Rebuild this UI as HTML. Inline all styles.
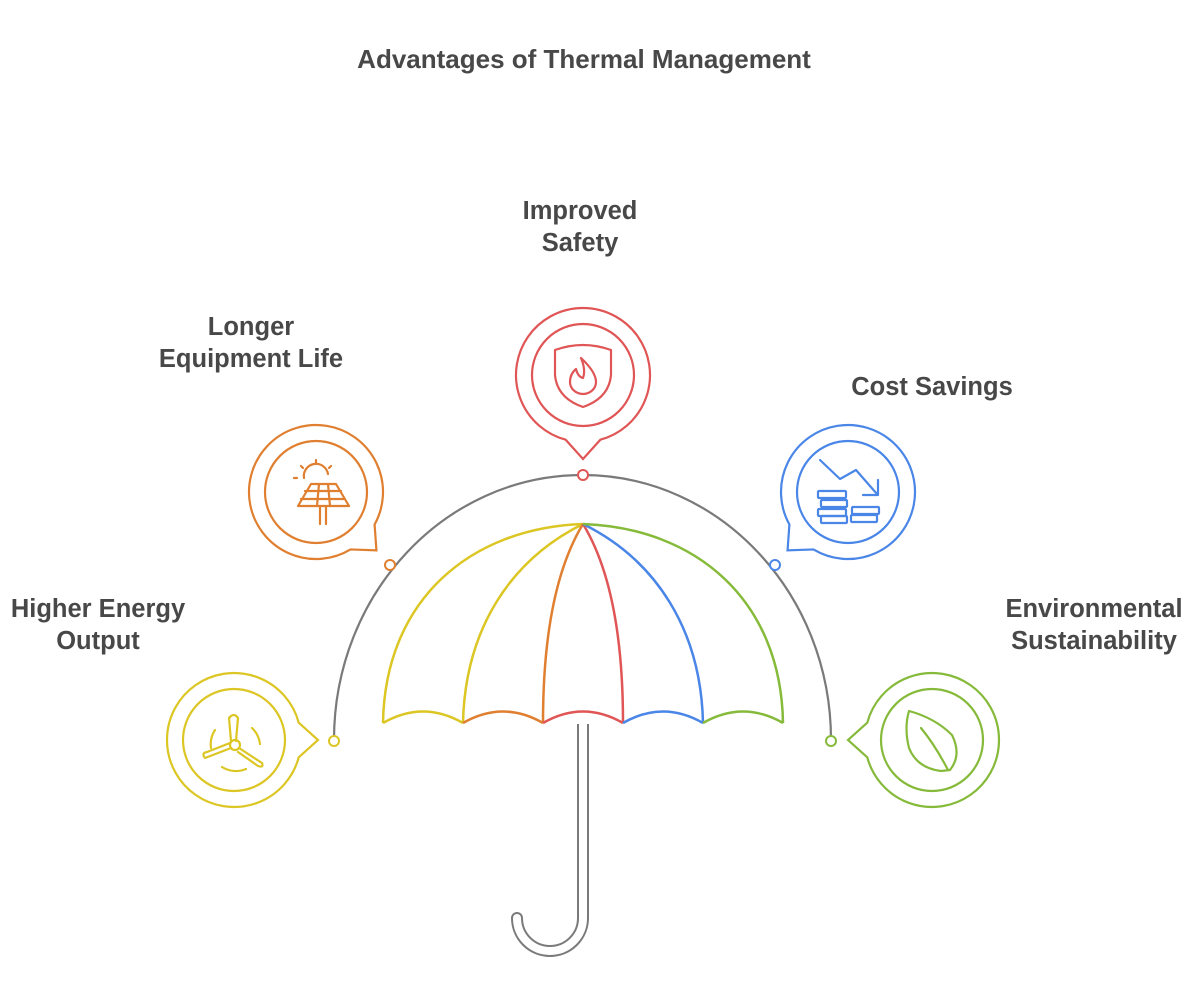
<!DOCTYPE html>
<html><head><meta charset="utf-8"><style>
html,body{margin:0;padding:0;background:#fff;}
svg{display:block}
text{font-family:"Liberation Sans",sans-serif;font-weight:bold;fill:#484848;}
</style></head><body>
<svg id="s" width="1200" height="1000" viewBox="0 0 1200 1000" xmlns="http://www.w3.org/2000/svg">
<text x="584" y="68" font-size="26" text-anchor="middle">Advantages of Thermal Management</text>
<text x="580" y="219" font-size="25.5" text-anchor="middle">Improved</text>
<text x="580" y="251" font-size="25.5" text-anchor="middle">Safety</text>
<text x="251" y="335" font-size="25.5" text-anchor="middle">Longer</text>
<text x="251" y="367" font-size="25.5" text-anchor="middle">Equipment Life</text>
<text x="932" y="395" font-size="25.5" text-anchor="middle">Cost Savings</text>
<text x="98" y="617" font-size="25.5" text-anchor="middle">Higher Energy</text>
<text x="98" y="649" font-size="25.5" text-anchor="middle">Output</text>
<text x="1094" y="617" font-size="25.5" text-anchor="middle">Environmental</text>
<text x="1094" y="649" font-size="25.5" text-anchor="middle">Sustainability</text>

<!-- outer arc -->
<path d="M334,740 C334,593.6 445.2,475 582.5,475 C719.8,475 831,593.6 831,740" fill="none" stroke="#7a7a7a" stroke-width="2.2"/>

<!-- handle -->
<path d="M583,722 L583,918 A33,33 0 0 1 517,918" fill="none" stroke="#7a7a7a" stroke-width="12" stroke-linecap="round"/>
<path d="M583,722 L583,918 A33,33 0 0 1 517,918" fill="none" stroke="#fff" stroke-width="8" stroke-linecap="round"/>
<rect x="576" y="712" width="14" height="12" fill="#fff"/>

<!-- canopy -->
<g fill="none" stroke-width="2.5" stroke-linejoin="round">
<path d="M583,524 C470,528 385,600 383,723" stroke="#dcc624"/>
<path d="M583,524 C510,560 465,630 463,723" stroke="#dcc624"/>
<path d="M583,524 C555,570 543,640 543,723" stroke="#e07f30"/>
<path d="M583,524 C611,570 623,640 623,723" stroke="#e05555"/>
<path d="M583,524 C656,560 701,630 703,723" stroke="#4a86e8"/>
<path d="M583,524 C696,528 781,600 783,723" stroke="#86ba3a"/>
<path d="M383,723 Q423,700 463,723" stroke="#dcc624"/>
<path d="M463,723 Q503,700 543,723" stroke="#e07f30"/>
<path d="M543,723 Q583,700 623,723" stroke="#e05555"/>
<path d="M623,723 Q663,700 703,723" stroke="#4a86e8"/>
<path d="M703,723 Q743,700 783,723" stroke="#86ba3a"/>
</g>

<!-- dots -->
<g fill="#fff" stroke-width="2">
<circle cx="583" cy="475" r="5" stroke="#e05555"/>
<circle cx="390" cy="565" r="5" stroke="#e07f30"/>
<circle cx="775" cy="565" r="5" stroke="#4a86e8"/>
<circle cx="334" cy="741" r="5" stroke="#dcc624"/>
<circle cx="831" cy="741" r="5" stroke="#86ba3a"/>
</g>
<g id="bubbles" fill="none" stroke-width="2.2"></g>

<!-- icons -->
<g fill="none" stroke-width="2.2" stroke-linecap="round" stroke-linejoin="round">
<g stroke="#e05555">
<path d="M555,350 Q583,340 611,350 L611,375 Q609,398 583,407 Q557,398 555,375 Z"/>
<path d="M581,358 Q596,372 596,382 A13,12 0 0 1 570,382 Q570,374 576,369 Q578,377 583,378 Q586,370 581,358 Z"/>
</g>
<g stroke="#e07f30">
<path d="M298,506 L311,484 L336,484 L349,506 Z M301,499 L345,499 M305,491 L341,491 M319,484 L317,506 M328,484 L330,506 M320,506 L320,524 M326,506 L326,524"/>
<path d="M304,478 A12,12 0 0 1 328,474"/>
<path d="M316,460 L316,463 M301,466 L303,468 M331,466 L329,468 M294,478 L297,478"/>
</g>
<g stroke="#dcc624">
<circle cx="235" cy="745" r="5"/>
<path d="M231,741 L229,718 Q234,712 238,718 L236,741"/>
<path d="M239,748 L262,763 Q264,768 258,766 L238,752"/>
<path d="M231,748 L205,758 Q201,753 207,752 L230,743"/>
<path d="M215,730 A26,26 0 0 0 211,748 M252,728 A26,26 0 0 1 260,744 M222,767 A26,26 0 0 0 246,769"/>
</g>
<g stroke="#4a86e8">
<path d="M820,460 L840,479 L856,470 L877,494 M863,495 L878,495 L878,480"/>
<rect x="818" y="491" width="28" height="7" rx="1"/>
<rect x="821" y="500" width="26" height="7" rx="1"/>
<rect x="818" y="509" width="28" height="7" rx="1"/>
<rect x="821" y="516" width="26" height="7" rx="1"/>
<rect x="852" y="507" width="27" height="7" rx="1"/>
<rect x="851" y="515" width="26" height="7" rx="1"/>
</g>
<g stroke="#86ba3a">
<path d="M909,711 Q935,718 952,735 Q962,755 950,770 L941,771 Q917,768 909,748 Q904,728 909,711 Z"/>
<path d="M921,728 Q935,745 948,770"/>
</g>
</g>
</svg>
<script>
var g=document.getElementById('bubbles');
var B=[[234,740,0,'#dcc624'],[316,492,44,'#e07f30'],[583,375,90,'#e05555'],[848,492,136,'#4a86e8'],[932,740,180,'#86ba3a']];
var R=67,r=51,hw=15,tipd=84;
B.forEach(function(b){
 var cx=b[0],cy=b[1],t=b[2]*Math.PI/180,h=hw*Math.PI/180;
 var a1=t+h,a2=t-h;
 var p1=[cx+R*Math.cos(a1),cy+R*Math.sin(a1)],p2=[cx+R*Math.cos(a2),cy+R*Math.sin(a2)];
 var tp=[cx+tipd*Math.cos(t),cy+tipd*Math.sin(t)];
 var d='M'+p1[0]+','+p1[1]+' A'+R+','+R+' 0 1 1 '+p2[0]+','+p2[1]+' L'+tp[0]+','+tp[1]+' Z';
 g.innerHTML+='<path d="'+d+'" stroke="'+b[3]+'" stroke-linejoin="miter"/><circle cx="'+cx+'" cy="'+cy+'" r="'+r+'" stroke="'+b[3]+'"/>';
});
</script>
</body></html>
